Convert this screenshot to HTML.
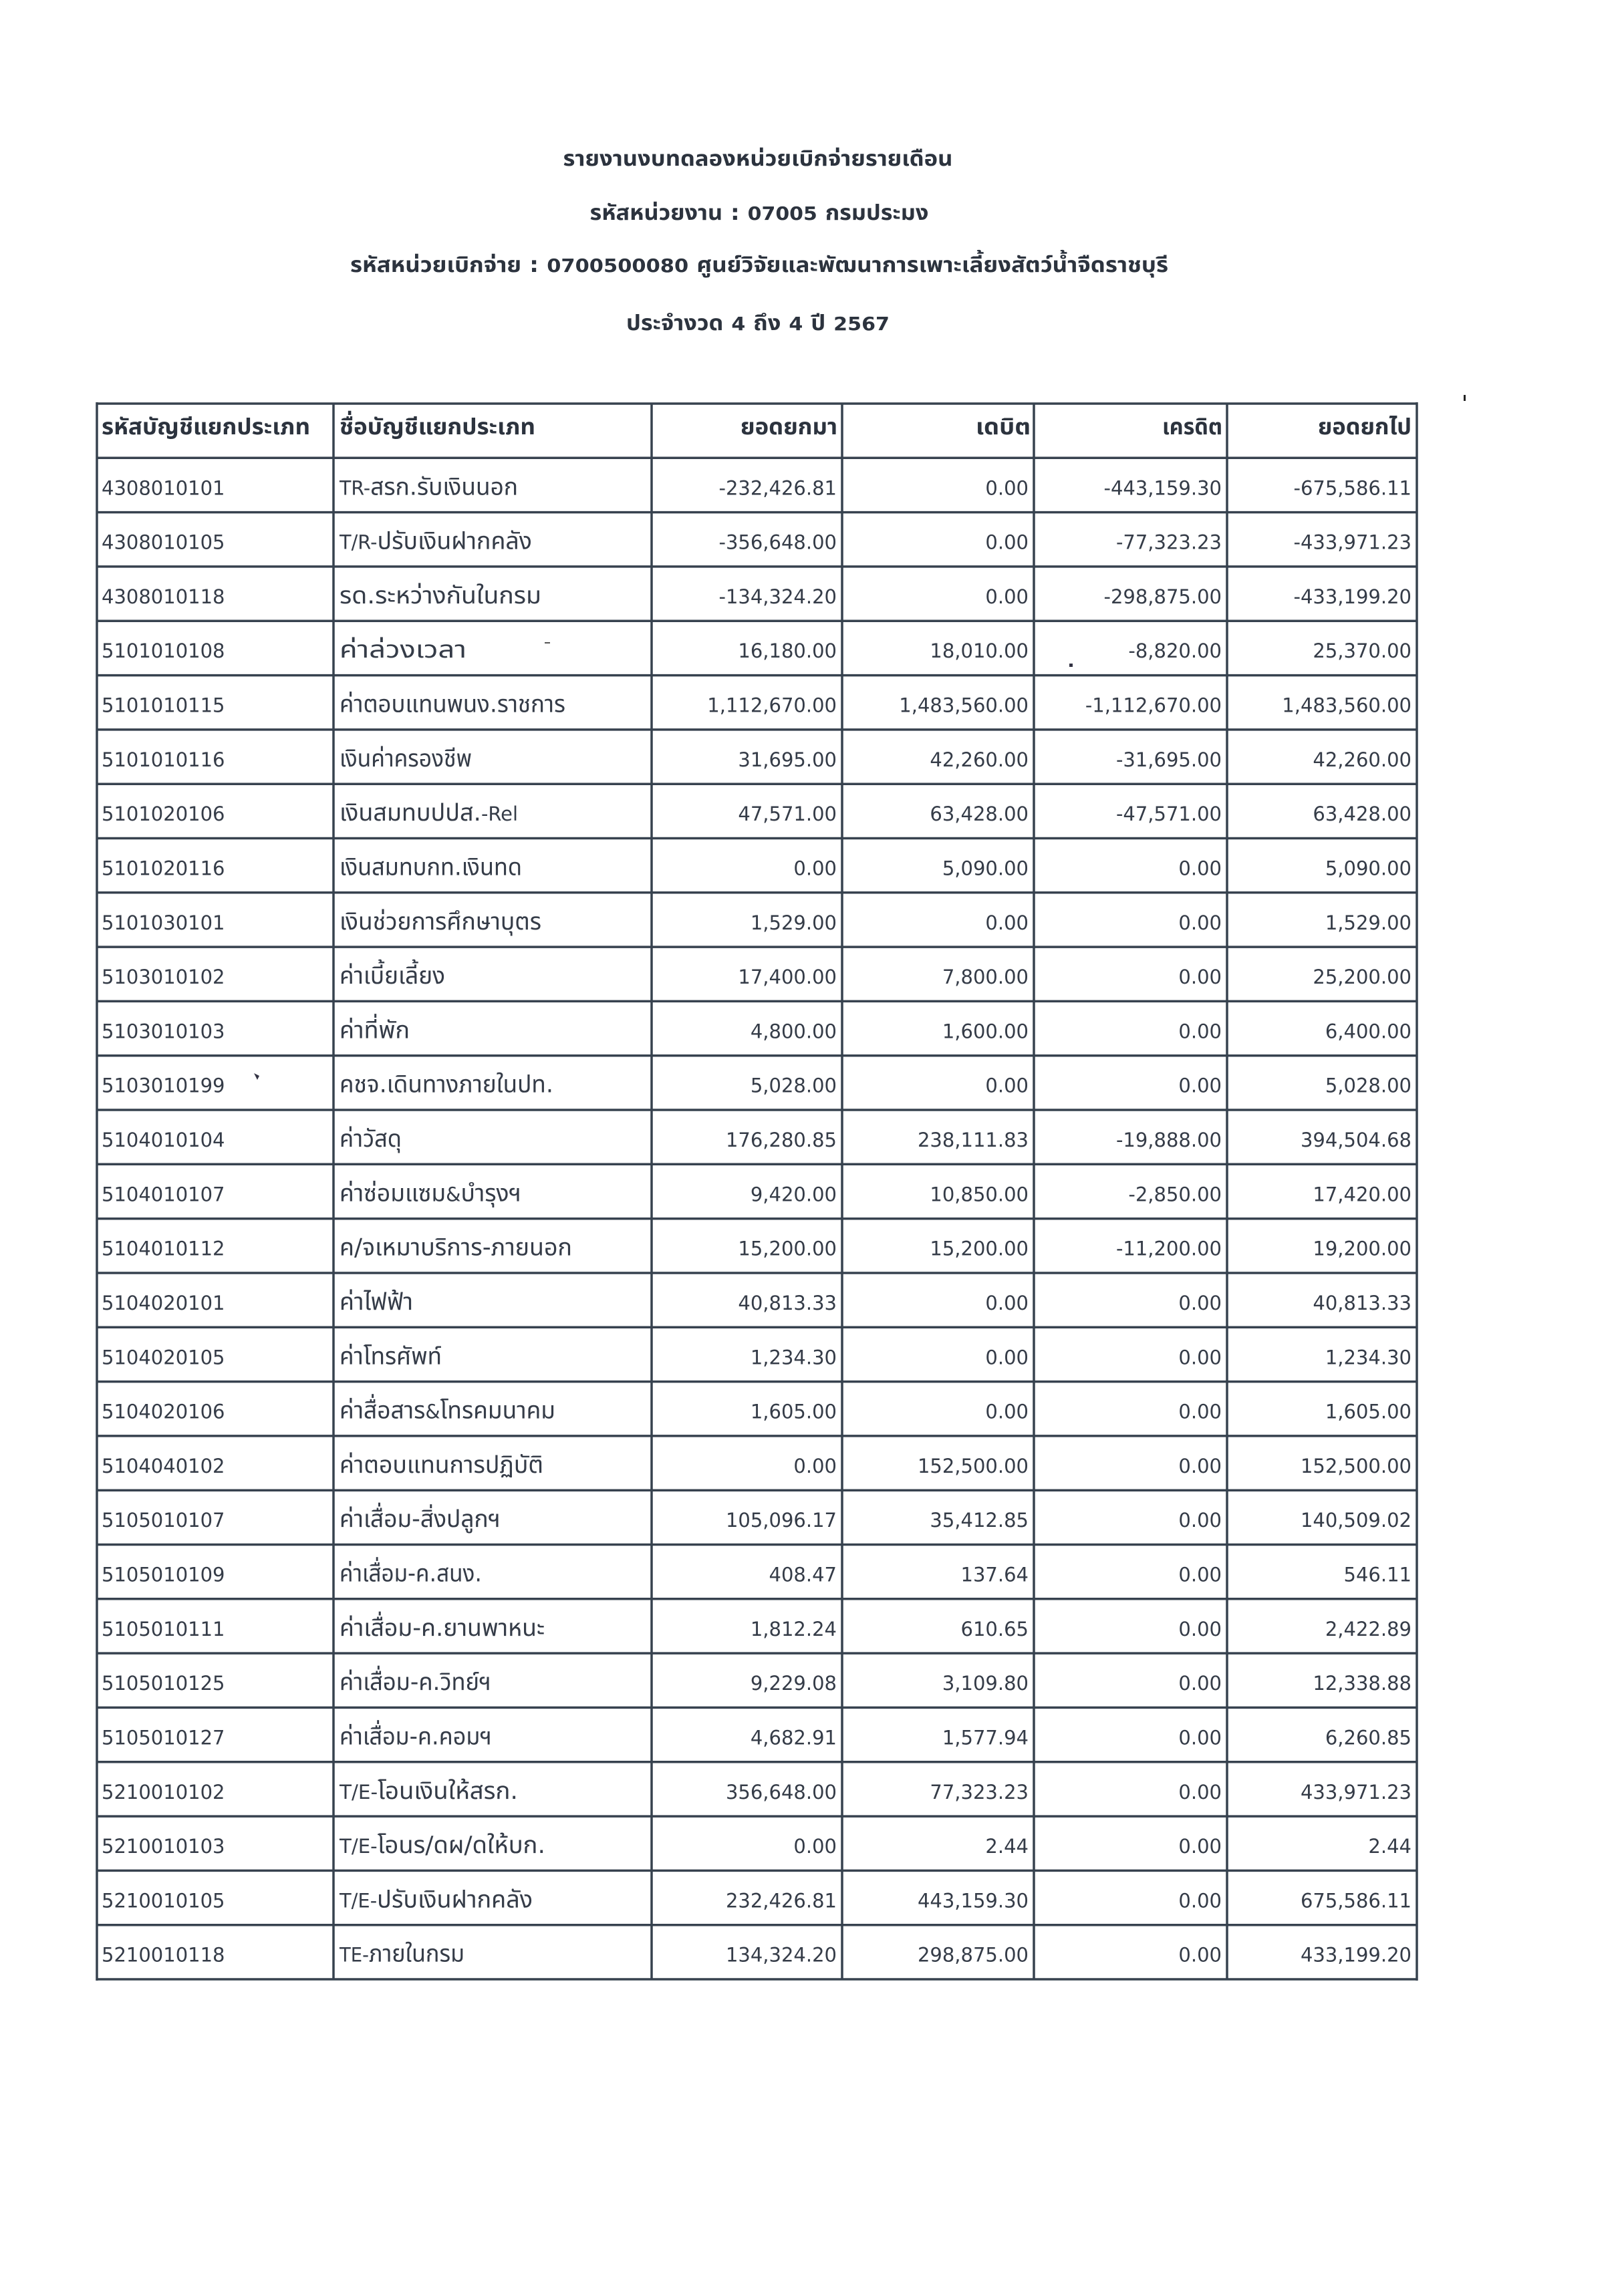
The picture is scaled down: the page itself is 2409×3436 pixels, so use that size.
<!DOCTYPE html>
<html><head><meta charset="utf-8"><style>
html,body{margin:0;padding:0;background:#fff;}
svg{display:block;}
text{font-family:"DejaVu Sans","Noto Sans Thai","Loma","Garuda","Liberation Sans",sans-serif;fill:#353c48;}
.t{font-size:32px;font-weight:bold;text-anchor:middle;fill:#2c333e;}
.h{font-size:34px;font-weight:bold;fill:#2c333e;}
.he{font-size:34px;font-weight:bold;fill:#2c333e;text-anchor:end;}
.d{font-size:29px;}
.n{font-size:36px;}
.l{font-size:29px;}
.r{font-size:29px;text-anchor:end;}
</style></head><body>
<svg width="2409" height="3436" viewBox="0 0 2409 3436" xmlns="http://www.w3.org/2000/svg">
<rect width="2409" height="3436" fill="#ffffff"/>
<!-- titles -->
<text class="t" x="1134" y="248" textLength="583" lengthAdjust="spacingAndGlyphs">รายงานงบทดลองหน่วยเบิกจ่ายรายเดือน</text>
<text class="t" x="1136" y="329" textLength="507" lengthAdjust="spacingAndGlyphs">รหัสหน่วยงาน : <tspan font-size="28">07005</tspan> กรมประมง</text>
<text class="t" x="1136" y="407" textLength="1224" lengthAdjust="spacingAndGlyphs">รหัสหน่วยเบิกจ่าย : <tspan font-size="28">0700500080</tspan> ศูนย์วิจัยและพัฒนาการเพาะเลี้ยงสัตว์น้ำจืดราชบุรี</text>
<text class="t" x="1134" y="494" textLength="394" lengthAdjust="spacingAndGlyphs">ประจำงวด <tspan font-size="28">4</tspan> ถึง <tspan font-size="28">4</tspan> ปี <tspan font-size="28">2567</tspan></text>

<!-- grid lines -->
<g stroke="#37424f" stroke-width="3.5" fill="none">
<path d="M145 604H2120 M145 685.3H2120 M145 766.6H2120 M145 847.9H2120 M145 929.2H2120 M145 1010.6H2120 M145 1091.9H2120 M145 1173.2H2120 M145 1254.5H2120 M145 1335.8H2120 M145 1417.1H2120 M145 1498.4H2120 M145 1579.7H2120 M145 1661H2120 M145 1742.3H2120 M145 1823.7H2120 M145 1905H2120 M145 1986.3H2120 M145 2067.6H2120 M145 2148.9H2120 M145 2230.2H2120 M145 2311.5H2120 M145 2392.8H2120 M145 2474.1H2120 M145 2555.4H2120 M145 2636.8H2120 M145 2718.1H2120 M145 2799.4H2120 M145 2880.7H2120 M145 2962H2120"/>
<path d="M145 602V2964 M499 604V2962 M975 604V2962 M1260 604V2962 M1547 604V2962 M1836 604V2962 M2120 602V2964"/>
</g>

<!-- header -->
<text class="h" x="152" y="650" textLength="312" lengthAdjust="spacingAndGlyphs">รหัสบัญชีแยกประเภท</text>
<text class="h" x="508" y="650" textLength="293" lengthAdjust="spacingAndGlyphs">ชื่อบัญชีแยกประเภท</text>
<text class="he" x="1253" y="650" textLength="145" lengthAdjust="spacingAndGlyphs">ยอดยกมา</text>
<text class="he" x="1542" y="650" textLength="82" lengthAdjust="spacingAndGlyphs">เดบิต</text>
<text class="he" x="1829" y="650" textLength="90" lengthAdjust="spacingAndGlyphs">เครดิต</text>
<text class="he" x="2112" y="650" textLength="140" lengthAdjust="spacingAndGlyphs">ยอดยกไป</text>

<!-- rows -->
<g transform="translate(0,740.3)"><text class="d" x="152" y="0">4308010101</text><text class="n" x="508" y="0" textLength="267" lengthAdjust="spacingAndGlyphs"><tspan class="l">TR-</tspan>สรก.รับเงินนอก</text><text class="r" x="1252" y="0">-232,426.81</text><text class="r" x="1539" y="0">0.00</text><text class="r" x="1828" y="0">-443,159.30</text><text class="r" x="2112" y="0">-675,586.11</text></g>
<g transform="translate(0,821.6)"><text class="d" x="152" y="0">4308010105</text><text class="n" x="508" y="0" textLength="288" lengthAdjust="spacingAndGlyphs"><tspan class="l">T/R-</tspan>ปรับเงินฝากคลัง</text><text class="r" x="1252" y="0">-356,648.00</text><text class="r" x="1539" y="0">0.00</text><text class="r" x="1828" y="0">-77,323.23</text><text class="r" x="2112" y="0">-433,971.23</text></g>
<g transform="translate(0,902.9)"><text class="d" x="152" y="0">4308010118</text><text class="n" x="508" y="0" textLength="302" lengthAdjust="spacingAndGlyphs">รด.ระหว่างกันในกรม</text><text class="r" x="1252" y="0">-134,324.20</text><text class="r" x="1539" y="0">0.00</text><text class="r" x="1828" y="0">-298,875.00</text><text class="r" x="2112" y="0">-433,199.20</text></g>
<g transform="translate(0,984.2)"><text class="d" x="152" y="0">5101010108</text><text class="n" x="508" y="0" textLength="190" lengthAdjust="spacingAndGlyphs">ค่าล่วงเวลา</text><text class="r" x="1252" y="0">16,180.00</text><text class="r" x="1539" y="0">18,010.00</text><text class="r" x="1828" y="0">-8,820.00</text><text class="r" x="2112" y="0">25,370.00</text></g>
<g transform="translate(0,1065.6)"><text class="d" x="152" y="0">5101010115</text><text class="n" x="508" y="0" textLength="338" lengthAdjust="spacingAndGlyphs">ค่าตอบแทนพนง.ราชการ</text><text class="r" x="1252" y="0">1,112,670.00</text><text class="r" x="1539" y="0">1,483,560.00</text><text class="r" x="1828" y="0">-1,112,670.00</text><text class="r" x="2112" y="0">1,483,560.00</text></g>
<g transform="translate(0,1146.9)"><text class="d" x="152" y="0">5101010116</text><text class="n" x="508" y="0" textLength="198" lengthAdjust="spacingAndGlyphs">เงินค่าครองชีพ</text><text class="r" x="1252" y="0">31,695.00</text><text class="r" x="1539" y="0">42,260.00</text><text class="r" x="1828" y="0">-31,695.00</text><text class="r" x="2112" y="0">42,260.00</text></g>
<g transform="translate(0,1228.2)"><text class="d" x="152" y="0">5101020106</text><text class="n" x="508" y="0" textLength="267" lengthAdjust="spacingAndGlyphs">เงินสมทบปปส.<tspan class="l">-Rel</tspan></text><text class="r" x="1252" y="0">47,571.00</text><text class="r" x="1539" y="0">63,428.00</text><text class="r" x="1828" y="0">-47,571.00</text><text class="r" x="2112" y="0">63,428.00</text></g>
<g transform="translate(0,1309.5)"><text class="d" x="152" y="0">5101020116</text><text class="n" x="508" y="0" textLength="273" lengthAdjust="spacingAndGlyphs">เงินสมทบกท.เงินทด</text><text class="r" x="1252" y="0">0.00</text><text class="r" x="1539" y="0">5,090.00</text><text class="r" x="1828" y="0">0.00</text><text class="r" x="2112" y="0">5,090.00</text></g>
<g transform="translate(0,1390.8)"><text class="d" x="152" y="0">5101030101</text><text class="n" x="508" y="0" textLength="302" lengthAdjust="spacingAndGlyphs">เงินช่วยการศึกษาบุตร</text><text class="r" x="1252" y="0">1,529.00</text><text class="r" x="1539" y="0">0.00</text><text class="r" x="1828" y="0">0.00</text><text class="r" x="2112" y="0">1,529.00</text></g>
<g transform="translate(0,1472.1)"><text class="d" x="152" y="0">5103010102</text><text class="n" x="508" y="0" textLength="158" lengthAdjust="spacingAndGlyphs">ค่าเบี้ยเลี้ยง</text><text class="r" x="1252" y="0">17,400.00</text><text class="r" x="1539" y="0">7,800.00</text><text class="r" x="1828" y="0">0.00</text><text class="r" x="2112" y="0">25,200.00</text></g>
<g transform="translate(0,1553.4)"><text class="d" x="152" y="0">5103010103</text><text class="n" x="508" y="0" textLength="105" lengthAdjust="spacingAndGlyphs">ค่าที่พัก</text><text class="r" x="1252" y="0">4,800.00</text><text class="r" x="1539" y="0">1,600.00</text><text class="r" x="1828" y="0">0.00</text><text class="r" x="2112" y="0">6,400.00</text></g>
<g transform="translate(0,1634.7)"><text class="d" x="152" y="0">5103010199</text><text class="n" x="508" y="0" textLength="320" lengthAdjust="spacingAndGlyphs">คชจ.เดินทางภายในปท.</text><text class="r" x="1252" y="0">5,028.00</text><text class="r" x="1539" y="0">0.00</text><text class="r" x="1828" y="0">0.00</text><text class="r" x="2112" y="0">5,028.00</text></g>
<g transform="translate(0,1716)"><text class="d" x="152" y="0">5104010104</text><text class="n" x="508" y="0" textLength="93" lengthAdjust="spacingAndGlyphs">ค่าวัสดุ</text><text class="r" x="1252" y="0">176,280.85</text><text class="r" x="1539" y="0">238,111.83</text><text class="r" x="1828" y="0">-19,888.00</text><text class="r" x="2112" y="0">394,504.68</text></g>
<g transform="translate(0,1797.3)"><text class="d" x="152" y="0">5104010107</text><text class="n" x="508" y="0" textLength="272" lengthAdjust="spacingAndGlyphs">ค่าซ่อมแซม<tspan class="l">&amp;</tspan>บำรุงฯ</text><text class="r" x="1252" y="0">9,420.00</text><text class="r" x="1539" y="0">10,850.00</text><text class="r" x="1828" y="0">-2,850.00</text><text class="r" x="2112" y="0">17,420.00</text></g>
<g transform="translate(0,1878.7)"><text class="d" x="152" y="0">5104010112</text><text class="n" x="508" y="0" textLength="348" lengthAdjust="spacingAndGlyphs">ค/จเหมาบริการ-ภายนอก</text><text class="r" x="1252" y="0">15,200.00</text><text class="r" x="1539" y="0">15,200.00</text><text class="r" x="1828" y="0">-11,200.00</text><text class="r" x="2112" y="0">19,200.00</text></g>
<g transform="translate(0,1960)"><text class="d" x="152" y="0">5104020101</text><text class="n" x="508" y="0" textLength="110" lengthAdjust="spacingAndGlyphs">ค่าไฟฟ้า</text><text class="r" x="1252" y="0">40,813.33</text><text class="r" x="1539" y="0">0.00</text><text class="r" x="1828" y="0">0.00</text><text class="r" x="2112" y="0">40,813.33</text></g>
<g transform="translate(0,2041.3)"><text class="d" x="152" y="0">5104020105</text><text class="n" x="508" y="0" textLength="153" lengthAdjust="spacingAndGlyphs">ค่าโทรศัพท์</text><text class="r" x="1252" y="0">1,234.30</text><text class="r" x="1539" y="0">0.00</text><text class="r" x="1828" y="0">0.00</text><text class="r" x="2112" y="0">1,234.30</text></g>
<g transform="translate(0,2122.6)"><text class="d" x="152" y="0">5104020106</text><text class="n" x="508" y="0" textLength="323" lengthAdjust="spacingAndGlyphs">ค่าสื่อสาร<tspan class="l">&amp;</tspan>โทรคมนาคม</text><text class="r" x="1252" y="0">1,605.00</text><text class="r" x="1539" y="0">0.00</text><text class="r" x="1828" y="0">0.00</text><text class="r" x="2112" y="0">1,605.00</text></g>
<g transform="translate(0,2203.9)"><text class="d" x="152" y="0">5104040102</text><text class="n" x="508" y="0" textLength="305" lengthAdjust="spacingAndGlyphs">ค่าตอบแทนการปฏิบัติ</text><text class="r" x="1252" y="0">0.00</text><text class="r" x="1539" y="0">152,500.00</text><text class="r" x="1828" y="0">0.00</text><text class="r" x="2112" y="0">152,500.00</text></g>
<g transform="translate(0,2285.2)"><text class="d" x="152" y="0">5105010107</text><text class="n" x="508" y="0" textLength="241" lengthAdjust="spacingAndGlyphs">ค่าเสื่อม-สิ่งปลูกฯ</text><text class="r" x="1252" y="0">105,096.17</text><text class="r" x="1539" y="0">35,412.85</text><text class="r" x="1828" y="0">0.00</text><text class="r" x="2112" y="0">140,509.02</text></g>
<g transform="translate(0,2366.5)"><text class="d" x="152" y="0">5105010109</text><text class="n" x="508" y="0" textLength="213" lengthAdjust="spacingAndGlyphs">ค่าเสื่อม-ค.สนง.</text><text class="r" x="1252" y="0">408.47</text><text class="r" x="1539" y="0">137.64</text><text class="r" x="1828" y="0">0.00</text><text class="r" x="2112" y="0">546.11</text></g>
<g transform="translate(0,2447.8)"><text class="d" x="152" y="0">5105010111</text><text class="n" x="508" y="0" textLength="307" lengthAdjust="spacingAndGlyphs">ค่าเสื่อม-ค.ยานพาหนะ</text><text class="r" x="1252" y="0">1,812.24</text><text class="r" x="1539" y="0">610.65</text><text class="r" x="1828" y="0">0.00</text><text class="r" x="2112" y="0">2,422.89</text></g>
<g transform="translate(0,2529.1)"><text class="d" x="152" y="0">5105010125</text><text class="n" x="508" y="0" textLength="227" lengthAdjust="spacingAndGlyphs">ค่าเสื่อม-ค.วิทย์ฯ</text><text class="r" x="1252" y="0">9,229.08</text><text class="r" x="1539" y="0">3,109.80</text><text class="r" x="1828" y="0">0.00</text><text class="r" x="2112" y="0">12,338.88</text></g>
<g transform="translate(0,2610.4)"><text class="d" x="152" y="0">5105010127</text><text class="n" x="508" y="0" textLength="228" lengthAdjust="spacingAndGlyphs">ค่าเสื่อม-ค.คอมฯ</text><text class="r" x="1252" y="0">4,682.91</text><text class="r" x="1539" y="0">1,577.94</text><text class="r" x="1828" y="0">0.00</text><text class="r" x="2112" y="0">6,260.85</text></g>
<g transform="translate(0,2691.8)"><text class="d" x="152" y="0">5210010102</text><text class="n" x="508" y="0" textLength="267" lengthAdjust="spacingAndGlyphs"><tspan class="l">T/E-</tspan>โอนเงินให้สรก.</text><text class="r" x="1252" y="0">356,648.00</text><text class="r" x="1539" y="0">77,323.23</text><text class="r" x="1828" y="0">0.00</text><text class="r" x="2112" y="0">433,971.23</text></g>
<g transform="translate(0,2773.1)"><text class="d" x="152" y="0">5210010103</text><text class="n" x="508" y="0" textLength="308" lengthAdjust="spacingAndGlyphs"><tspan class="l">T/E-</tspan>โอนร/ดผ/ดให้บก.</text><text class="r" x="1252" y="0">0.00</text><text class="r" x="1539" y="0">2.44</text><text class="r" x="1828" y="0">0.00</text><text class="r" x="2112" y="0">2.44</text></g>
<g transform="translate(0,2854.4)"><text class="d" x="152" y="0">5210010105</text><text class="n" x="508" y="0" textLength="289" lengthAdjust="spacingAndGlyphs"><tspan class="l">T/E-</tspan>ปรับเงินฝากคลัง</text><text class="r" x="1252" y="0">232,426.81</text><text class="r" x="1539" y="0">443,159.30</text><text class="r" x="1828" y="0">0.00</text><text class="r" x="2112" y="0">675,586.11</text></g>
<g transform="translate(0,2935.7)"><text class="d" x="152" y="0">5210010118</text><text class="n" x="508" y="0" textLength="187" lengthAdjust="spacingAndGlyphs"><tspan class="l">TE-</tspan>ภายในกรม</text><text class="r" x="1252" y="0">134,324.20</text><text class="r" x="1539" y="0">298,875.00</text><text class="r" x="1828" y="0">0.00</text><text class="r" x="2112" y="0">433,199.20</text></g>

<!-- small scan marks -->
<rect x="815" y="961" width="8" height="2" fill="#555"/>
<rect x="1600" y="993" width="5" height="5" fill="#334"/>
<path d="M380 1606 l8 4 l-3 6 z" fill="#334"/>
<rect x="2190" y="591" width="3" height="9" fill="#222"/>
</svg>
</body></html>
